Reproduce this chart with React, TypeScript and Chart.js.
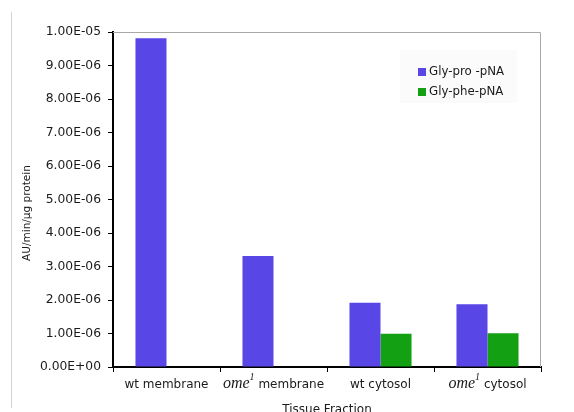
import { useEffect, useRef } from 'react';
import { Chart, registerables } from 'chart.js';

Chart.register(...registerables);

const categories = ['wt membrane', 'ome1 membrane', 'wt cytosol', 'ome1 cytosol'];
const seriesNames = ['Gly-pro -pNA', 'Gly-phe-pNA'];
const glyPro = [9.81e-6, 3.31e-6, 1.92e-6, 1.87e-6];
const glyPhe: (number | null)[] = [null, null, 0.99e-6, 1.01e-6];
const yTickValues = [0, 1e-6, 2e-6, 3e-6, 4e-6, 5e-6, 6e-6, 7e-6, 8e-6, 9e-6, 1e-5];
const yTitle = 'AU/min/µg protein';
const xTitle = 'Tissue Fraction';

const BLUE = '#5846e6';
const GREEN = '#13a013';
const SANS = '"DejaVu Sans", Verdana, sans-serif';
const SERIF = '"Liberation Serif", "Times New Roman", serif';
const TEXT = '#1a1a1a';

function fmtExp(v: number): string {
  const [m, e] = v.toExponential(2).split('e');
  const n = parseInt(e, 10);
  return m + 'E' + (n < 0 ? '-' : '+') + String(Math.abs(n)).padStart(2, '0');
}

const decorPlugin = {
  id: 'decor',
  afterDraw(chart: any) {
    const ctx = chart.ctx as CanvasRenderingContext2D;
    const area = chart.chartArea;
    const xs = chart.scales.x;
    ctx.save();

    // outer left frame line
    ctx.strokeStyle = '#d2d2d2';
    ctx.lineWidth = 1;
    ctx.beginPath();
    ctx.moveTo(11.5, 12);
    ctx.lineTo(11.5, 408);
    ctx.stroke();

    // plot frame top & right
    ctx.strokeStyle = '#a8a8a8';
    ctx.beginPath();
    ctx.moveTo(area.left, area.top + 0.5);
    ctx.lineTo(area.right - 0.5, area.top + 0.5);
    ctx.lineTo(area.right - 0.5, area.bottom);
    ctx.stroke();

    // x category labels
    ctx.fillStyle = TEXT;
    ctx.textBaseline = 'alphabetic';
    ctx.textAlign = 'left';
    const baseY = 388;
    categories.forEach((label, i) => {
      const cx = xs.getPixelForValue(i);
      const parts: { t: string; font: string; dy: number }[] = [];
      if (label.startsWith('ome1')) {
        parts.push({ t: 'ome', font: `italic 16px ${SERIF}`, dy: 0 });
        parts.push({ t: '1', font: `italic 10px ${SERIF}`, dy: -8 });
        parts.push({ t: label.slice(4), font: `12px ${SANS}`, dy: 0 });
      } else {
        parts.push({ t: label, font: `12px ${SANS}`, dy: 0 });
      }
      let total = 0;
      const widths = parts.map((p) => {
        ctx.font = p.font;
        const w = ctx.measureText(p.t).width;
        total += w;
        return w;
      });
      let x = cx - total / 2;
      parts.forEach((p, k) => {
        ctx.font = p.font;
        ctx.fillText(p.t, x, baseY + p.dy);
        x += widths[k];
      });
    });

    // x title
    ctx.font = `12px ${SANS}`;
    ctx.textAlign = 'center';
    ctx.fillText(xTitle, (area.left + area.right) / 2, 413);

    // y title
    ctx.save();
    ctx.translate(27, 213);
    ctx.rotate(-Math.PI / 2);
    ctx.font = `10.5px ${SANS}`;
    ctx.textAlign = 'center';
    ctx.textBaseline = 'middle';
    ctx.fillText(yTitle, 0, 0);
    ctx.restore();

    // legend
    ctx.fillStyle = '#fbfbfb';
    ctx.fillRect(400, 50, 117, 53);
    const colors = [BLUE, GREEN];
    chart.data.datasets.forEach((ds: any, i: number) => {
      const y = 72 + i * 20;
      ctx.fillStyle = colors[i];
      ctx.fillRect(418, y - 4, 8, 8);
      ctx.fillStyle = TEXT;
      ctx.font = `11.8px ${SANS}`;
      ctx.textAlign = 'left';
      ctx.textBaseline = 'middle';
      ctx.fillText(ds.label, 429, y);
    });

    ctx.restore();
  },
};

export default function App() {
  const ref = useRef<HTMLCanvasElement>(null);

  useEffect(() => {
    if (!ref.current) return;
    const chart = new Chart(ref.current, {
      type: 'bar',
      data: {
        labels: categories,
        datasets: [
          {
            label: seriesNames[0],
            data: glyPro,
            backgroundColor: BLUE,
            categoryPercentage: 0.58,
            barPercentage: 1,
          },
          {
            label: seriesNames[1],
            data: glyPhe as any,
            backgroundColor: GREEN,
            categoryPercentage: 0.58,
            barPercentage: 1,
          },
        ],
      },
      options: {
        responsive: false,
        animation: false,
        layout: { padding: { left: 0, top: 32, right: 33, bottom: 0 } },
        plugins: {
          legend: { display: false },
          tooltip: { enabled: false },
          title: { display: false },
        },
        scales: {
          x: {
            offset: true,
            grid: {
              offset: true,
              drawOnChartArea: false,
              drawTicks: true,
              tickLength: 5,
              color: '#000',
            },
            border: { display: true, color: '#000', width: 2 },
            ticks: { callback: () => '' },
            afterFit: (scale: any) => {
              scale.height = 45;
            },
          },
          y: {
            min: 0,
            max: 1e-5,
            grid: {
              drawOnChartArea: false,
              drawTicks: true,
              tickLength: 5,
              color: '#000',
            },
            border: { display: true, color: '#000', width: 2 },
            afterBuildTicks: (scale: any) => {
              scale.ticks = yTickValues.map((v) => ({ value: v }));
            },
            ticks: {
              padding: 7,
              color: TEXT,
              font: { family: SANS, size: 12.3 },
              callback: (v: any) => fmtExp(Number(v)),
            },
            afterFit: (scale: any) => {
              scale.width = 113;
            },
          },
        },
      },
      plugins: [decorPlugin],
    });
    return () => chart.destroy();
  }, []);

  return (
    <div style={{ position: 'fixed', left: 0, top: 0, width: 574, height: 412, background: '#fff' }}>
      <canvas ref={ref} width={574} height={412} style={{ display: 'block' }} />
    </div>
  );
}
